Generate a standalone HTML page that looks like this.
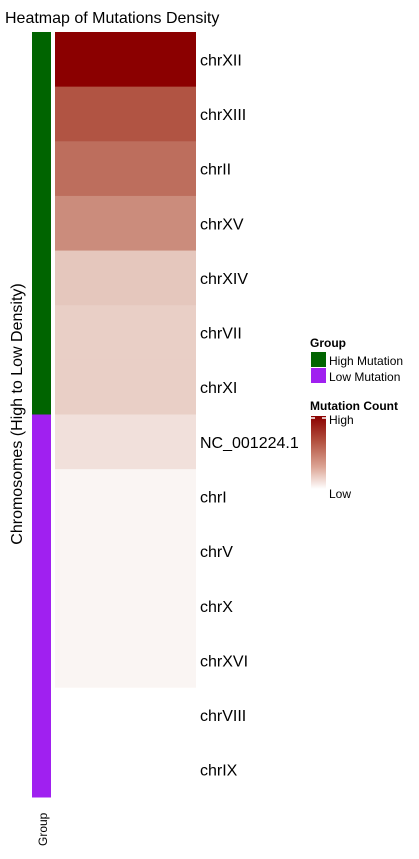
<!DOCTYPE html>
<html><head><meta charset="utf-8"><style>
body{margin:0;background:#fff;width:419px;height:854px;overflow:hidden}
text{font-family:"Liberation Sans",Arial,sans-serif}
</style></head><body>
<svg id="chart" width="419" height="854">
<text x="5" y="23" font-size="16" fill="#000">Heatmap of Mutations Density</text>
<g id="cells"></g>
<g id="groups"></g>
<g id="labels"></g>
<text transform="translate(22,414) rotate(-90)" text-anchor="middle" font-size="16">Chromosomes (High to Low Density)</text>
<text transform="translate(47,846) rotate(-90)" font-size="12">Group</text>
<g>
<text x="310" y="347" font-size="12" font-weight="bold">Group</text>
<rect x="311" y="352" width="15" height="15" fill="#006400"/>
<text x="329" y="365" font-size="12">High Mutation</text>
<rect x="311" y="368" width="15" height="15" fill="#A020F0"/>
<text x="329" y="381" font-size="12">Low Mutation</text>
<text x="310" y="410" font-size="12" font-weight="bold">Mutation Count</text>
<defs><linearGradient id="cg" x1="0" y1="0" x2="0" y2="1"><stop offset="0" stop-color="#8B0000"/><stop offset="0.35" stop-color="#b35240"/><stop offset="0.7" stop-color="#dca595"/><stop offset="1" stop-color="#fff"/></linearGradient></defs>
<rect x="311" y="416" width="15" height="73" fill="url(#cg)"/>
<line x1="311" y1="418" x2="315" y2="418" stroke="#fff" stroke-width="1.5"/>
<line x1="322" y1="418" x2="326" y2="418" stroke="#fff" stroke-width="1.5"/>
<text x="329" y="424" font-size="12">High</text>
<text x="329" y="498" font-size="12">Low</text>
</g>
</svg>
<script>
const chromosomes=["chrXII","chrXIII","chrII","chrXV","chrXIV","chrVII","chrXI","NC_001224.1","chrI","chrV","chrX","chrXVI","chrVIII","chrIX"];
const counts=[100,67,57,45,22,19,19,12,4,4,4,4,0,0];
const groups=["High","High","High","High","High","High","High","Low","Low","Low","Low","Low","Low","Low"];
const NS="http://www.w3.org/2000/svg";
const top0=32,bottom0=797,rowH=(bottom0-top0)/chromosomes.length;
const maxC=Math.max(...counts);
function yPos(i){return top0+i*rowH;}
function color(v){const t=v/maxC;const r=Math.round(255-(255-139)*t),g=Math.round(255*(1-t)),b=Math.round(255*Math.pow(1-t,1.2));return `rgb(${r},${g},${b})`;}
const cells=document.getElementById('cells'),gg=document.getElementById('groups'),lg=document.getElementById('labels');
chromosomes.forEach((c,i)=>{
 const r=document.createElementNS(NS,'rect');
 r.setAttribute('x',55);r.setAttribute('y',yPos(i));r.setAttribute('width',141);r.setAttribute('height',rowH+0.5);
 r.setAttribute('fill',color(counts[i]));
 
 
 cells.appendChild(r);
 const g=document.createElementNS(NS,'rect');
 g.setAttribute('x',32);g.setAttribute('y',yPos(i));g.setAttribute('width',19);g.setAttribute('height',rowH+0.5);
 g.setAttribute('fill',groups[i]==="High"?"#006400":"#A020F0");
 
 
 gg.appendChild(g);
 const t=document.createElementNS(NS,'text');
 t.setAttribute('x',200);t.setAttribute('y',yPos(i)+rowH/2+6);t.setAttribute('font-size','16');
 t.textContent=c;
 
 
 lg.appendChild(t);
});
</script>
</body></html>
